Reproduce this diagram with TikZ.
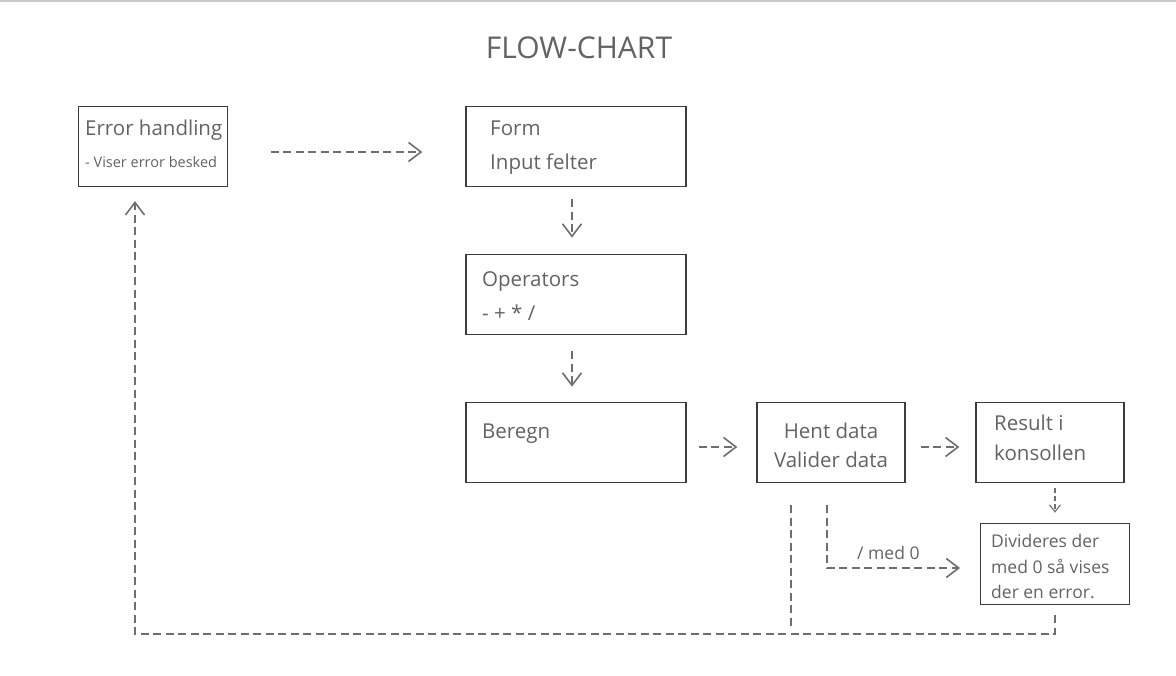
\documentclass[tikz,border=0pt]{standalone}
\usepackage{fontspec}
\setmainfont{Open Sans}
\usetikzlibrary{arrows.meta}
\definecolor{txt}{HTML}{636363}
\definecolor{boxc}{HTML}{3C3C3C}
\definecolor{arr}{HTML}{6E6E6E}
\definecolor{topline}{HTML}{C8C8C8}
\newcommand\fBig{\fontsize{20.5}{24}\selectfont}
\newcommand\fSmall{\fontsize{14.5}{17}\selectfont}
\newcommand\fMid{\fontsize{17.5}{21}\selectfont}
\newcommand\fTitle{\fontsize{30}{35}\selectfont}
\begin{document}
\begin{tikzpicture}[x=1pt,y=-1pt,
  boxst/.style={draw=boxc,line width=1.3pt,inner sep=0pt,fill=white},
  txtst/.style={text=txt,inner sep=0pt,anchor=base west},
  conn/.style={draw=arr,line width=2.2pt,dash pattern=on 8pt off 4.5pt,
     -{Straight Barb[length=0.05pt,width=0.05pt,line width=0.02pt,sep=6pt]Straight Barb[length=12.5pt,width=19pt,line width=1.6pt,sep=0pt]}},
  connsmall/.style={draw=arr,line width=1.3pt,dash pattern=on 5pt off 3pt,
     -{Straight Barb[length=0.05pt,width=0.05pt,line width=0.02pt,sep=2pt]Straight Barb[length=7pt,width=11pt,line width=1.1pt,sep=0pt]}},
  plain/.style={draw=arr,line width=2.2pt,dash pattern=on 8pt off 4.5pt}
]
\useasboundingbox (0,0) rectangle (1176,676);
\draw[topline,line width=1.6pt] (0,0.8) -- (1176,0.8);

\node[text=txt,font=\fTitle,inner sep=0pt,anchor=base] (title) at (579,59) {FLOW-CHART};

% boxes
\node[boxst,minimum width=149pt,minimum height=80pt] (err) at (152.8,146.5) {};
\node[boxst,minimum width=220pt,minimum height=80.5pt] (form) at (576,146.5) {};
\node[boxst,minimum width=220pt,minimum height=80.5pt] (ops) at (576,294.5) {};
\node[boxst,minimum width=220pt,minimum height=80.5pt] (ber) at (576,442.5) {};
\node[boxst,minimum width=148pt,minimum height=80pt] (hent) at (831,442.5) {};
\node[boxst,minimum width=148pt,minimum height=80pt] (res) at (1050,442.5) {};
\node[boxst,minimum width=148.6pt,minimum height=81.4pt] (div) at (1055,564) {};

% texts
\node[txtst,font=\fBig] (t1) at (85,136) {Error handling};
\node[txtst,font=\fSmall] (t2) at (85,168) {- Viser error besked};
\node[txtst,font=\fBig] (t3) at (490,136) {Form};
\node[txtst,font=\fBig] (t4) at (490,170) {Input felter};
\node[txtst,font=\fBig] (t5) at (482,287) {Operators};
\node[txtst,font=\fBig] (t6) at (482,321) {- + * /};
\node[txtst,font=\fBig] (t7) at (482,438) {Beregn};
\node[text=txt,font=\fBig,inner sep=0pt,anchor=base] (t8) at (831,438) {Hent data};
\node[text=txt,font=\fBig,inner sep=0pt,anchor=base] (t9) at (831,467) {Valider data};
\node[txtst,font=\fBig] (t10) at (994,431) {Result i};
\node[txtst,font=\fBig] (t11) at (994,460) {konsollen};
\node[txtst,font=\fMid] (t12) at (991,547) {Divideres der};
\node[txtst,font=\fMid] (t13) at (991,573) {med 0 så vises};
\node[txtst,font=\fMid] (t14) at (991,598) {der en error.};
\node[txtst,font=\fMid] (lbl) at (857,559) {/ med 0};

% coordinates
\coordinate (bot) at (0,634);
\coordinate (h1) at ([xshift=-4pt,yshift=-22pt]hent.south);
\coordinate (h2) at ([xshift=-40pt,yshift=-22pt]hent.south);
\coordinate (dA) at (div.south);
\coordinate (eB) at ([xshift=-17.8pt]err.south);

% connectors
\draw[conn,shorten <=43pt,shorten >=43pt] ([yshift=-5.5pt]err.east) -- ([yshift=-5.5pt]form.west);
\draw[conn,shorten <=12pt,shorten >=16pt] ([xshift=-4pt]form.south) -- ([xshift=-4pt]ops.north);
\draw[conn,shorten <=16pt,shorten >=15pt] ([xshift=-4pt]ops.south) -- ([xshift=-4pt]ber.north);
\draw[conn,shorten <=12pt,shorten >=19pt] ([yshift=-4.5pt]ber.east) -- ([yshift=-4.5pt]hent.west);
\draw[conn,shorten <=15pt,shorten >=16pt] ([yshift=-4.5pt]hent.east) -- ([yshift=-4.5pt]res.west);
\draw[connsmall,shorten <=5pt,shorten >=10pt] ([xshift=5pt]res.south) -- ([xshift=0pt]div.north);
\draw[conn,shorten >=20pt] (h1) |- ([yshift=-4pt]div.west);
\draw[plain,shorten >=8pt] (h2) -- (h2 |- bot);
\draw[conn,shorten <=10pt,shorten >=14pt] (dA) -- (dA |- bot) -| (eB);
\end{tikzpicture}
\end{document}
